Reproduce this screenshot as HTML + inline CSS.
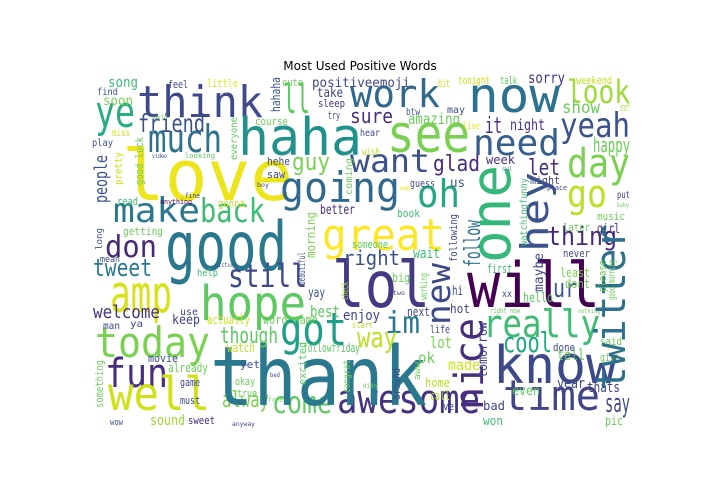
<!DOCTYPE html>
<html><head><meta charset="utf-8"><style>
html,body{margin:0;padding:0;background:#fff;}
svg{display:block;}
</style></head><body>
<svg id="cloud" width="720" height="504" viewBox="0 0 720 504" xmlns="http://www.w3.org/2000/svg">
<rect width="720" height="504" fill="#fff"/>
<text x="360" y="70" text-anchor="middle" font-family="DejaVu Sans, Liberation Sans, sans-serif" font-size="12" fill="#000">Most Used Positive Words</text>
<g id="words"></g>
</svg>
<script>
// word, x, y(baseline), font size, length, color
const hWords = [
["think",137,117,44,126,"#3e4a89"],["ll",283,113,40,27,"#5ec962"],["haha",238,155,52,124,"#21918c"],
["ye",95,127,44,40,"#27ad81"],["much",148,152,38,74,"#2c728e"],["friend",138,132,25,67,"#3b528b"],
["love",122,200,70,171,"#ece51b"],["going",280,202,42,120,"#31688e"],["guy",292,170,24,38,"#7ad151"],
["make",113,222,34,87,"#2a788e"],["back",200,222,33,65,"#3fbc73"],["don",105,257,30,52,"#482878"],
["good",165,270,68,122,"#2a788e"],["great",322,250,44,123,"#fde725"],["lol",332,307,64,98,"#443983"],
["will",467,307,62,133,"#440154"],["hope",200,320,48,106,"#5ec962"],["amp",110,312,52,62,"#d8e219"],
["still",228,287,32,79,"#3e4989"],["tweet",93,276,24,59,"#2a788e"],["today",95,357,42,115,"#7ad151"],
["got",280,345,45,67,"#1f9e89"],["fun",105,387,40,63,"#472d7b"],["well",108,410,46,102,"#d0e11c"],
["come",272,413,30,60,"#5ec962"],["alway",222,407,22,47,"#7ad151"],["awesome",337,413,40,143,"#46327e"],
["thank",210,405,82,217,"#2a788e"],["im",385,333,30,35,"#2a788e"],["right",343,265,20,57,"#3b528b"],
["way",357,347,28,40,"#bddf26"],["know",493,383,52,124,"#3e4989"],["time",503,410,42,97,"#414487"],
["really",483,337,38,117,"#3fbc73"],["cool",503,352,28,49,"#22a884"],["ur",553,297,26,24,"#3b528b"],
["say",605,412,26,25,"#3e4989"],["thing",547,245,26,70,"#482878"],["work",350,107,38,90,"#31688e"],
["now",468,112,48,92,"#2c728e"],["look",567,103,32,63,"#a0da39"],["see",387,152,52,83,"#7ad151"],
["need",473,155,36,87,"#355f8d"],["yeah",560,137,34,70,"#3b528b"],["day",567,177,40,63,"#7ad151"],
["go",567,207,38,40,"#bddf26"],["want",350,172,32,80,"#3b528b"],["oh",417,207,38,43,"#22a884"],
["happy",593,152,20,37,"#6ccd5a"],["show",562,113,17,38,"#6ccd5a"],["sure",350,123,20,43,"#472d7b"],
["it",485,133,22,17,"#472d7b"],["glad",433,171,22,47,"#472d7b"],["let",528,175,22,32,"#472d7b"],
["welcome",93,318,18,67,"#46327e"],["though",220,343,22,58,"#5ec962"],["best",310,317,16,30,"#5ec962"],
["enjoy",343,320,14,37,"#414487"],["lot",430,348,16,22,"#7ad151"],["ok",418,363,15,17,"#6ccd5a"],
["tell",557,360,15,28,"#5ec962"],["made",448,370,15,32,"#d0e11c"],["year",557,388,14,28,"#3e4989"],
["thats",587,392,14,33,"#414487"],["even",512,395,13,28,"#5ec962"],["sorry",528,83,15,37,"#46327e"],
["amazing",408,124,15,52,"#6ccd5a"],["night",510,130,15,35,"#46327e"],["positiveemoji",312,87,13,98,"#3e4989"],
["song",108,87,14,30,"#3fbc73"],["soon",103,105,13,30,"#7ad151"],["take",317,97,13,26,"#414487"],
["wait",413,258,14,27,"#3fbc73"],["hello",523,302,13,30,"#5ec962"],["hi",452,295,13,11,"#3e4989"],
["us",450,187,13,15,"#3b528b"],["girl",597,233,13,23,"#472d7b"],["better",320,214,13,35,"#472d7b"],
["yay",308,297,13,17,"#3b528b"],["keep",172,324,13,28,"#414487"],["sound",150,425,14,35,"#a0da39"],
["week",486,164,12,29,"#46327e"],["feel",168,88,11,20,"#3e4989"],["little",207,87,11,31,"#e5e419"],
["cute",282,86,11,21,"#6ccd5a"],["find",97,95,10,21,"#3b528b"],["sleep",318,107,11,27,"#472d7b"],
["try",328,119,11,12,"#3e4989"],["course",255,125,11,33,"#6ccd5a"],["miss",112,136,10,18,"#d0e11c"],
["play",92,146,10,21,"#3e4989"],["hehe",267,165,11,23,"#3e4989"],["saw",267,178,11,18,"#3e4989"],
["read",117,205,11,21,"#3fbc73"],["gonna",218,207,11,27,"#bddf26"],["getting",123,235,11,40,"#6ccd5a"],
["bit",438,87,11,12,"#d0e11c"],["tonight",458,84,11,32,"#d0e11c"],["talk",500,84,11,17,"#5ec962"],
["weekend",576,84,11,36,"#bddf26"],["stuff",620,111,11,10,"#a0da39"],["btw",406,115,10,14,"#3b528b"],
["may",447,113,10,18,"#3e4989"],["live",463,129,10,17,"#e5e419"],["hear",360,136,10,20,"#3e4989"],
["wish",362,155,10,18,"#bddf26"],["guess",410,187,11,25,"#3e4989"],["might",530,184,11,30,"#414487"],
["book",397,217,11,23,"#3fbc73"],["put",617,198,10,13,"#414487"],["music",597,220,11,28,"#6ccd5a"],
["later",563,231,11,27,"#6ccd5a"],["someone",352,248,11,36,"#5ec962"],["mean",100,262,9,20,"#3e4989"],
["help",197,276,10,21,"#3fbc73"],["use",180,315,10,18,"#3e4989"],["actually",207,324,12,43,"#d0e11c"],
["word name",263,324,12,55,"#6ccd5a"],["man",103,329,10,17,"#3e4989"],["ya",130,327,10,13,"#3e4989"],
["watch",227,352,12,28,"#bddf26"],["followfriday",303,352,12,57,"#5ec962"],["movie",148,362,11,30,"#3e4989"],
["yet",240,368,11,20,"#3e4989"],["already",168,372,12,40,"#6ccd5a"],["okay",235,385,11,20,"#6ccd5a"],
["game",180,386,11,20,"#3e4989"],["true",237,397,11,20,"#6ccd5a"],["must",180,404,11,20,"#3e4989"],
["sweet",188,424,11,27,"#472d7b"],["wow",110,425,9,13,"#3b528b"],["never",563,257,11,27,"#3e4989"],
["first",487,273,12,25,"#3fbc73"],["big",392,282,12,18,"#6ccd5a"],["least",560,277,12,30,"#7ad151"],
["dont",565,288,12,25,"#6ccd5a"],["xx",502,297,10,10,"#3e4989"],["hot",450,313,12,20,"#3e4989"],
["next",407,316,12,23,"#3e4989"],["start",352,328,9,21,"#bddf26"],["life",430,333,11,20,"#3e4989"],
["done",553,351,11,22,"#3e4989"],["said",600,345,11,22,"#6ccd5a"],["give",600,361,11,20,"#6ccd5a"],
["home",425,387,12,25,"#bddf26"],["call",430,400,12,20,"#bddf26"],["ve",443,410,11,11,"#3e4989"],
["bad",483,410,12,22,"#3e4989"],["won",483,425,12,20,"#3fbc73"],["pic",605,425,12,18,"#6ccd5a"],
["world",153,119,6,14,"#6ccd5a"],["video",152,158,6,15,"#3e4989"],["looking",185,158,7,30,"#5ec962"],
["boy",257,187,6,12,"#3e4989"],["fine",185,198,7,15,"#3e4989"],["anything",160,204,7,32,"#440154"],
["real",502,171,6,10,"#3e4989"],["omg",400,190,6,10,"#e5e419"],["place",547,190,7,20,"#3e4989"],
["baby",617,207,6,12,"#6ccd5a"],["picture",215,267,6,22,"#3e4989"],["bed",270,377,6,10,"#3e4989"],
["free",268,402,7,15,"#6ccd5a"],["anyway",232,426,6,23,"#3e4989"],["two",393,295,6,12,"#3e4989"],
["right now",490,313,7,30,"#6ccd5a"],["nothing",578,313,6,22,"#6ccd5a"],["didn",363,388,6,14,"#6ccd5a"]
];
// vertical words: word, baseline x, bottom y, font size, length, color
const vWords = [
["one",510,263,55,98,"#35b779"],["hey",548,252,38,80,"#3b528b"],["nice",483,410,40,92,"#472d7b"],
["new",450,325,33,62,"#3e4989"],["follow",480,267,22,47,"#2c728e"],["twitter",625,390,42,165,"#2d708e"],
["people",107,203,18,48,"#3b528b"],["pretty",122,185,11,33,"#d0e11c"],["good luck",143,185,11,48,"#6ccd5a"],
["hahaha",280,112,12,35,"#3b528b"],["everyone",237,160,10,43,"#5ec962"],["coming",352,195,10,37,"#6ccd5a"],
["morning",315,258,12,46,"#7ad151"],["beautiful",305,285,10,33,"#3b528b"],["check",348,300,10,18,"#a0da39"],
["long",102,250,9,22,"#3b528b"],["watchingfunny",527,246,10,68,"#3fbc73"],["following",457,262,11,48,"#3e4989"],
["something",103,408,11,48,"#6ccd5a"],["excited",306,385,11,43,"#5ec962"],["congrat",350,393,10,33,"#6ccd5a"],
["aww",420,380,9,18,"#6ccd5a"],["around",400,400,11,32,"#3e4989"],["tomorrow",487,378,13,56,"#3e4989"],
["maybe",543,292,13,39,"#3e4989"],["please",606,292,11,32,"#6ccd5a"],["working",427,300,10,27,"#6ccd5a"],
["good morning",615,300,10,40,"#6ccd5a"]
];
const NS = "http://www.w3.org/2000/svg";
const g = document.getElementById("words");
function mk(w){
  const t = document.createElementNS(NS, "text");
  t.textContent = w[0];
  t.setAttribute("font-family", "DejaVu Sans Mono, Liberation Mono, monospace");
  t.setAttribute("font-size", w[3]);
  t.setAttribute("fill", w[5]);
  t.setAttribute("textLength", w[4]);
  t.setAttribute("lengthAdjust", "spacingAndGlyphs");
  return t;
}
hWords.forEach(w => {
  const t = mk(w);
  t.setAttribute("x", w[1]);
  t.setAttribute("y", w[2]);
  
  
  g.appendChild(t);
});
vWords.forEach(w => {
  const t = mk(w);
  t.setAttribute("x", 0);
  t.setAttribute("y", 0);
  t.setAttribute("transform", "translate(" + w[1] + "," + w[2] + ") rotate(-90)");
  
  
  g.appendChild(t);
});
</script>
</body></html>
